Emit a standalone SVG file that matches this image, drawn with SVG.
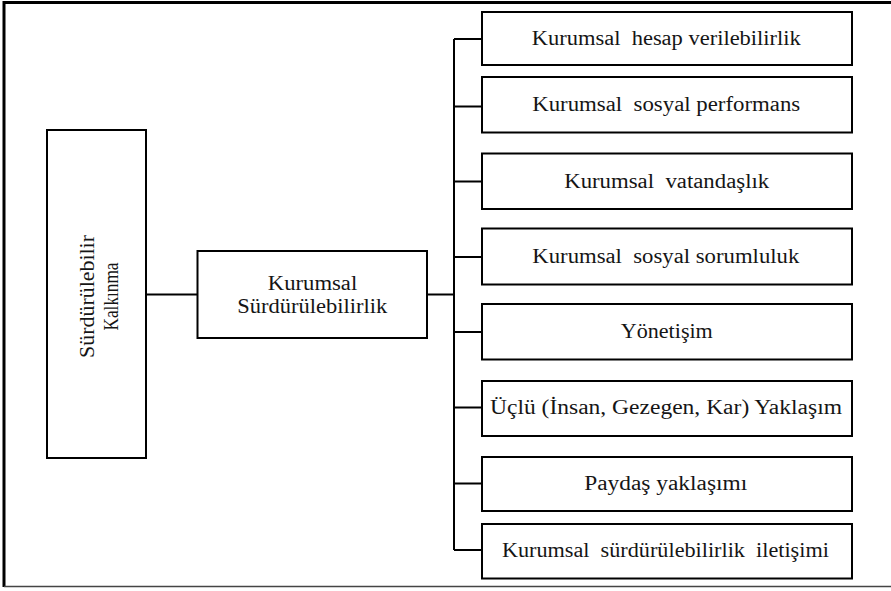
<svg xmlns="http://www.w3.org/2000/svg" width="891" height="591" viewBox="0 0 891 591">
<style>
.box{fill:#fff;stroke:#000;stroke-width:2}
.t{font-family:'Liberation Serif','Times New Roman',serif;font-size:20.5px;fill:#151515;text-anchor:middle;white-space:pre}
.c{fill:none;stroke:#000;stroke-width:2}
</style>
<rect width="891" height="591" fill="#fff"/>
<g id="frame">
<path d="M4,587 V2.5 H891" fill="none" stroke="#000" stroke-width="3"/>
<path d="M4,586.5 H891" fill="none" stroke="#444" stroke-width="1.5"/>
</g>
<g id="connectors">
<path class="c" d="M146,294.5 H197.5"/>
<path class="c" d="M427,294.5 H454"/>
<path class="c" d="M454,39 V550"/>
<path class="c" d="M454,39 H482 M454,106.5 H482 M454,181.5 H482 M454,257 H482 M454,332 H482 M454,407.5 H482 M454,483.5 H482 M454,550 H482"/>
</g>
<g id="n-surdurulebilir-kalkinma">
<rect class="box" x="47" y="130" width="99" height="328"/>
<text class="t" transform="translate(96,296.5) rotate(-90)"><tspan x="0" y="-2" textLength="123" lengthAdjust="spacingAndGlyphs">Sürdürülebilir</tspan><tspan x="0" y="22" textLength="68" lengthAdjust="spacingAndGlyphs">Kalkınma</tspan></text>
</g>
<g id="n-kurumsal-surdurulebilirlik">
<rect class="box" x="197.5" y="251" width="229.5" height="87"/>
<text class="t"><tspan x="312.5" y="289.5" textLength="89.5" lengthAdjust="spacingAndGlyphs">Kurumsal</tspan><tspan x="312.3" y="312.7" textLength="150" lengthAdjust="spacingAndGlyphs">Sürdürülebilirlik</tspan></text>
</g>
<g id="n-hesap">
<rect class="box" x="482" y="12" width="370" height="53"/>
<text class="t" x="666.3" y="45" textLength="269" lengthAdjust="spacingAndGlyphs">Kurumsal  hesap verilebilirlik</text>
</g>
<g id="n-performans">
<rect class="box" x="482" y="77" width="370" height="55.5"/>
<text class="t" x="666.2" y="111" textLength="268" lengthAdjust="spacingAndGlyphs">Kurumsal  sosyal performans</text>
</g>
<g id="n-vatandaslik">
<rect class="box" x="482" y="153.5" width="370" height="55.5"/>
<text class="t" x="666.7" y="187.5" textLength="205" lengthAdjust="spacingAndGlyphs">Kurumsal  vatandaşlık</text>
</g>
<g id="n-sorumluluk">
<rect class="box" x="482" y="228.5" width="370" height="56"/>
<text class="t" x="665.8" y="262.5" textLength="267" lengthAdjust="spacingAndGlyphs">Kurumsal  sosyal sorumluluk</text>
</g>
<g id="n-yonetisim">
<rect class="box" x="482" y="304" width="370" height="55.5"/>
<text class="t" x="666.8" y="338" textLength="92" lengthAdjust="spacingAndGlyphs">Yönetişim</text>
</g>
<g id="n-uclu">
<rect class="box" x="482" y="381" width="370" height="55"/>
<text class="t" x="666" y="414" textLength="352" lengthAdjust="spacingAndGlyphs">Üçlü (İnsan, Gezegen, Kar) Yaklaşım</text>
</g>
<g id="n-paydas">
<rect class="box" x="482" y="457" width="370" height="54"/>
<text class="t" x="665.7" y="490" textLength="163" lengthAdjust="spacingAndGlyphs">Paydaş yaklaşımı</text>
</g>
<g id="n-iletisim">
<rect class="box" x="482" y="524" width="370" height="54.5"/>
<text class="t" x="665.4" y="556.5" textLength="327" lengthAdjust="spacingAndGlyphs">Kurumsal  sürdürülebilirlik  iletişimi</text>
</g>
</svg>
